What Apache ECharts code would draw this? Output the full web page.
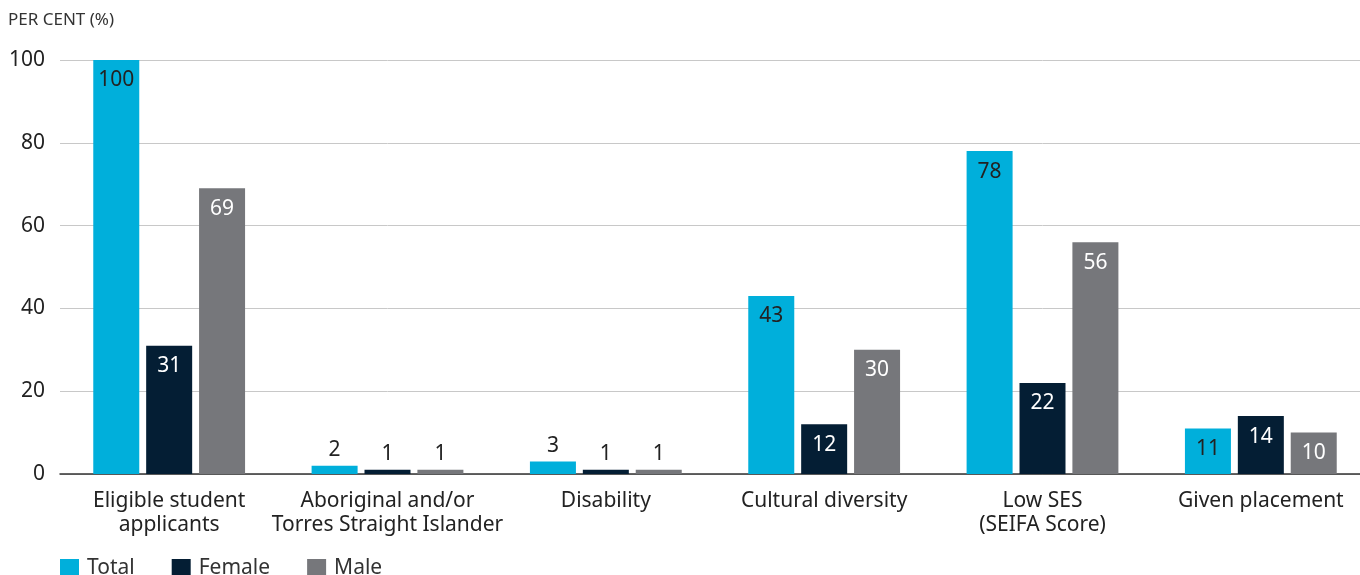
<!DOCTYPE html>
<html>
<head>
<meta charset="utf-8">
<script src="https://cdn.jsdelivr.net/npm/echarts@6/dist/echarts.min.js"></script>
<style>
  html, body { margin: 0; padding: 0; background: #ffffff; overflow: hidden; }
  /* the plot runs slightly past the right edge of the window */
  #chart { width: 1370px; height: 575px; }
</style>
</head>
<body>
<div id="chart"></div>
<script>
// Student applicant groups and their share (per cent) by gender
const categories = [
  'Eligible student\napplicants',
  'Aboriginal and/or\nTorres Straight Islander',
  'Disability',
  'Cultural diversity',
  'Low SES\n(SEIFA Score)',
  'Given placement'
];
const totalValues  = [100, 2, 3, 43, 78, 11];
const femaleValues = [31, 1, 1, 12, 22, 14];
const maleValues   = [69, 1, 1, 30, 56, 10];
const yTicks = [0, 20, 40, 60, 80, 100];

const FONT = '"Noto Sans", "Open Sans", sans-serif';
const DARK = '#222222';

// Short bars carry their value above; taller bars carry it inside the top
function labelled(values, insideColor) {
  return values.map(v => ({
    value: v,
    label: v < 5
      ? { position: 'top', color: DARK, distance: 5 }
      : { position: 'insideTop', color: insideColor, distance: 10 }
  }));
}

function barSeries(name, color, values, insideColor) {
  return {
    name: name,
    type: 'bar',
    barWidth: 46,
    barGap: '15%',
    itemStyle: { color: color },
    label: {
      show: true,
      fontFamily: FONT,
      fontSize: 21,
      formatter: p => p.value
    },
    data: labelled(values, insideColor)
  };
}

const chart = echarts.init(document.getElementById('chart'));
chart.setOption({
  animation: false,
  textStyle: { fontFamily: FONT },
  title: {
    text: 'PER CENT (%)',
    left: 3,
    top: 7,
    textStyle: { fontFamily: FONT, fontSize: 17, fontWeight: 'normal', color: '#333333' }
  },
  legend: {
    left: 55,
    top: 553,
    itemWidth: 19,
    itemHeight: 19,
    itemGap: 37,
    icon: 'rect',
    textStyle: { fontFamily: FONT, fontSize: 21, color: '#333333', padding: [0, 0, 0, 3] },
    data: ['Total', 'Female', 'Male']
  },
  grid: { left: 60, right: 0, top: 60, bottom: 101, containLabel: false },
  xAxis: {
    type: 'category',
    data: categories,
    axisTick: { show: false },
    axisLine: { show: true, lineStyle: { color: '#333333', width: 1.5 } },
    axisLabel: {
      fontFamily: FONT,
      fontSize: 21,
      color: DARK,
      lineHeight: 24,
      margin: 15,
      interval: 0
    }
  },
  yAxis: {
    type: 'value',
    min: yTicks[0],
    max: yTicks[yTicks.length - 1],
    interval: 20,
    axisLine: { show: false },
    axisTick: { show: false },
    splitLine: { lineStyle: { color: '#c8c8c8', width: 1 } },
    axisLabel: { fontFamily: FONT, fontSize: 21, color: DARK, margin: 15 }
  },
  series: [
    barSeries('Total', '#00afdb', totalValues, DARK),
    barSeries('Female', '#041e34', femaleValues, '#ffffff'),
    barSeries('Male', '#76777b', maleValues, '#ffffff')
  ]
});
</script>
</body>
</html>
